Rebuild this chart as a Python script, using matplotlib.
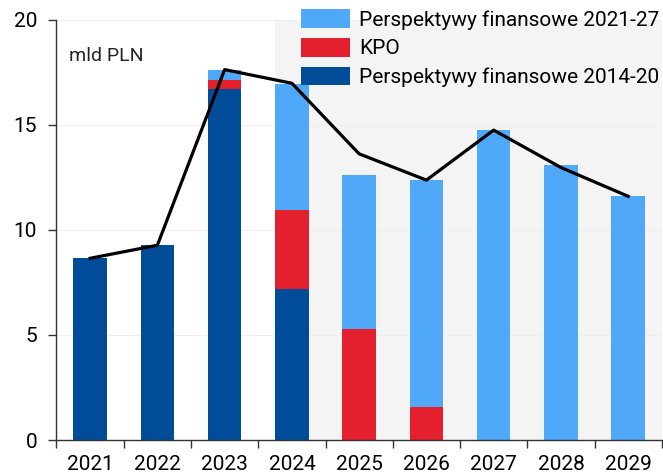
import matplotlib.pyplot as plt
import numpy as np

plt.rcParams['font.family'] = ['Liberation Sans Narrow', 'Roboto', 'DejaVu Sans']

years = ['2021', '2022', '2023', '2024', '2025', '2026', '2027', '2028', '2029']
# mld PLN, stacked from the bottom
pf_2014_20 = [8.65, 9.3, 16.72, 7.2, 0, 0, 0, 0, 0]
kpo = [0, 0, 0.43, 3.77, 5.3, 1.57, 0, 0, 0]
pf_2021_27 = [0, 0, 0.45, 5.98, 7.33, 10.8, 14.75, 13.1, 11.6]
total_line = [8.65, 9.27, 17.63, 16.98, 13.62, 12.37, 14.75, 12.97, 11.6]

c_dark = '#004c99'
c_red = '#e4202e'
c_light = '#4fa9f8'

fig = plt.figure(figsize=(6.63, 4.74), dpi=100)
ax = fig.add_axes([0.0852, 0.0717, 0.913, 0.8865])

x = np.arange(len(years))
# shaded forecast area
ax.axvspan(2.75, 8.5, color='#f4f4f4', zorder=0, lw=0)

w = 0.5
b1 = np.array(pf_2014_20)
b2 = b1 + np.array(kpo)
ax.bar(x, pf_2014_20, w, color=c_dark, zorder=2, label='Perspektywy finansowe 2014-20')
ax.bar(x, kpo, w, bottom=b1, color=c_red, zorder=2, label='KPO')
ax.bar(x, pf_2021_27, w, bottom=b2, color=c_light, zorder=2, label='Perspektywy finansowe 2021-27')
ax.plot(x, total_line, color='black', lw=2.3, zorder=3)

ax.set_xlim(-0.5, 8.5)
ax.set_ylim(0, 20)
ax.set_yticks([0, 5, 10, 15, 20])
ax.set_xticks(x)
ax.set_xticklabels(years)
ax.set_xticks(np.arange(-0.5, 8.6, 1), minor=True)
ax.tick_params(axis='x', which='major', length=0, labelsize=15, pad=11)
ax.tick_params(axis='x', which='minor', length=6, width=1, color='#333333')
ax.tick_params(axis='y', length=6, width=1, color='#333333', labelsize=15, pad=8)
ax.grid(axis='y', color='#eeeeee', lw=0.8, zorder=1)
ax.set_axisbelow(True)
for s in ['top', 'right']:
    ax.spines[s].set_visible(False)
for s in ['left', 'bottom']:
    ax.spines[s].set_color('#333333')
    ax.spines[s].set_linewidth(1)

ax.text(0.02, 0.915, 'mld PLN', transform=ax.transAxes, fontsize=14,
        color='#222222', va='center', ha='left')

h, l = ax.get_legend_handles_labels()
leg = ax.legend(h[::-1], l[::-1], loc='upper right', bbox_to_anchor=(1.01, 1.045),
                frameon=False, fontsize=15, handlelength=2.35, handleheight=1.0,
                handletextpad=0.45, labelspacing=0.4, borderaxespad=0)
leg.set_zorder(5)

fig.savefig('out.png', dpi=100)
